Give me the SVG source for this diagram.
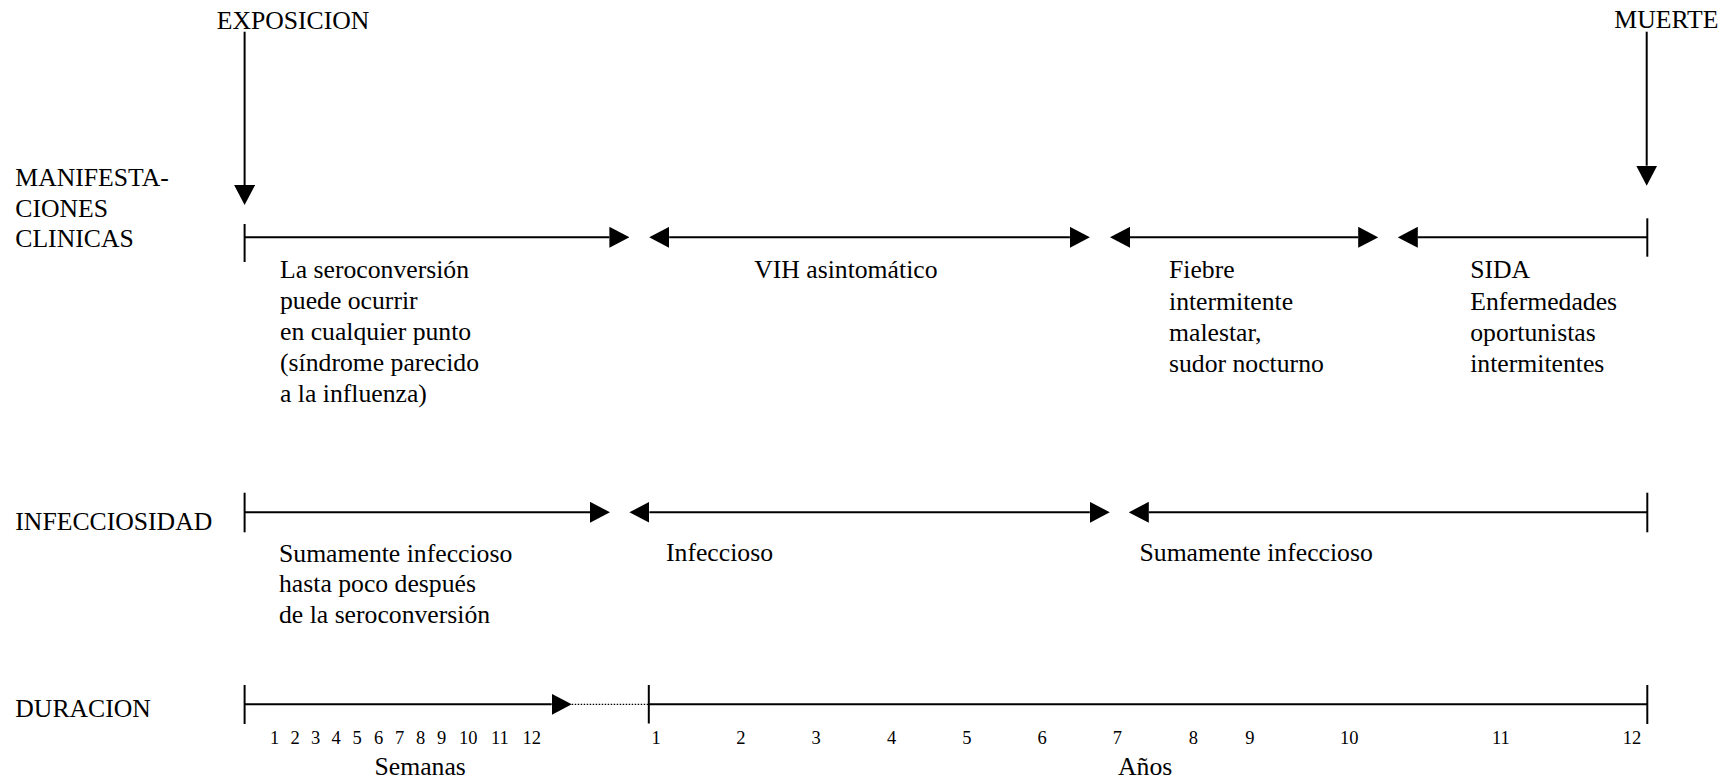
<svg xmlns="http://www.w3.org/2000/svg" width="1725" height="782" viewBox="0 0 1725 782">
<style>
text{font-family:'Liberation Serif','Times New Roman',Times,'DejaVu Serif',serif;fill:#000}
.t{font-size:25.7px}
.n{font-size:18.5px}
.ln{stroke:#000;stroke-width:2;fill:none}
.dot{stroke:#000;stroke-width:1.2;stroke-dasharray:1.5 1.5;fill:none}
</style>
<defs>
<marker id="ah" viewBox="0 0 20 21" refX="0" refY="10.5" markerWidth="20" markerHeight="21" markerUnits="userSpaceOnUse" orient="auto-start-reverse">
<path d="M0,0 L20,10.5 L0,21 Z" fill="#000"/>
</marker>
</defs>
<g id="labels-left" font-family="Liberation Serif, serif">
<text class="t" x="15.3" y="186">MANIFESTA-</text>
<text class="t" x="15.3" y="216.5">CIONES</text>
<text class="t" x="15.3" y="247">CLINICAS</text>
<text class="t" x="15.3" y="530">INFECCIOSIDAD</text>
<text class="t" x="15.3" y="717.3">DURACION</text>
</g>
<g id="exposicion"><text class="t" x="216.7" y="28.5">EXPOSICION</text></g>
<g id="muerte"><text class="t" x="1614.3" y="28">MUERTE</text></g>
<g id="seroconversion">
<text class="t" x="280" y="278.3">La seroconversión</text>
<text class="t" x="280" y="309.1">puede ocurrir</text>
<text class="t" x="280" y="339.9">en cualquier punto</text>
<text class="t" x="280" y="370.7">(síndrome parecido</text>
<text class="t" x="280" y="401.5">a la influenza)</text>
</g>
<g id="vih"><text class="t" x="754.2" y="278.3">VIH asintomático</text></g>
<g id="fiebre">
<text class="t" x="1169" y="278.3">Fiebre</text>
<text class="t" x="1169" y="309.5">intermitente</text>
<text class="t" x="1169" y="340.7">malestar,</text>
<text class="t" x="1169" y="371.9">sudor nocturno</text>
</g>
<g id="sida">
<text class="t" x="1470.2" y="278.3">SIDA</text>
<text class="t" x="1470.2" y="309.5">Enfermedades</text>
<text class="t" x="1470.2" y="340.7">oportunistas</text>
<text class="t" x="1470.2" y="371.9">intermitentes</text>
</g>
<g id="suma1">
<text class="t" x="279" y="561.5">Sumamente infeccioso</text>
<text class="t" x="279" y="592.4">hasta poco después</text>
<text class="t" x="279" y="623.3">de la seroconversión</text>
</g>
<g id="infeccioso"><text class="t" x="666" y="561">Infeccioso</text></g>
<g id="suma2"><text class="t" x="1139.5" y="561">Sumamente infeccioso</text></g>
<g id="semanas">
<text class="n" x="270" y="744">1</text>
<text class="n" x="290.5" y="744">2</text>
<text class="n" x="311" y="744">3</text>
<text class="n" x="331.5" y="744">4</text>
<text class="n" x="352.5" y="744">5</text>
<text class="n" x="374" y="744">6</text>
<text class="n" x="395" y="744">7</text>
<text class="n" x="416" y="744">8</text>
<text class="n" x="437" y="744">9</text>
<text class="n" x="459" y="744">10</text>
<text class="n" x="491" y="744">11</text>
<text class="n" x="522.5" y="744">12</text>
<text class="t" x="374.5" y="775">Semanas</text>
</g>
<g id="anos">
<text class="n" x="651.6" y="744">1</text>
<text class="n" x="736.3" y="744">2</text>
<text class="n" x="811.6" y="744">3</text>
<text class="n" x="887" y="744">4</text>
<text class="n" x="962.3" y="744">5</text>
<text class="n" x="1037.6" y="744">6</text>
<text class="n" x="1112.8" y="744">7</text>
<text class="n" x="1188.8" y="744">8</text>
<text class="n" x="1245.3" y="744">9</text>
<text class="n" x="1340" y="744">10</text>
<text class="n" x="1492" y="744">11</text>
<text class="n" x="1622.7" y="744">12</text>
<text class="t" x="1118" y="775">Años</text>
</g>
<g id="connectors">
<path class="ln" d="M244.6,31.7 V185" marker-end="url(#ah)"/>
<path class="ln" d="M1646.7,31.7 V165.7" marker-end="url(#ah)"/>
<path class="ln" d="M244.6,224 V262"/>
<path class="ln" d="M244.6,237.3 H609.4" marker-end="url(#ah)"/>
<path class="ln" d="M669.2,237.3 H1069.9" marker-start="url(#ah)" marker-end="url(#ah)"/>
<path class="ln" d="M1130,237.3 H1358.2" marker-start="url(#ah)" marker-end="url(#ah)"/>
<path class="ln" d="M1417.8,237.3 H1647.3" marker-start="url(#ah)"/>
<path class="ln" d="M1647.3,218.3 V256.7"/>
<path class="ln" d="M244.6,492.7 V532.3"/>
<path class="ln" d="M244.6,512.3 H590" marker-end="url(#ah)"/>
<path class="ln" d="M649.4,512.3 H1089.8" marker-start="url(#ah)" marker-end="url(#ah)"/>
<path class="ln" d="M1148.8,512.3 H1647.3" marker-start="url(#ah)"/>
<path class="ln" d="M1647.3,492.7 V532.3"/>
<path class="ln" d="M244.6,685 V724"/>
<path class="ln" d="M244.6,704.3 H551.7" marker-end="url(#ah)"/>
<path class="dot" d="M571.7,704.3 H648"/>
<path class="ln" d="M648.8,685 V723.5"/>
<path class="ln" d="M648.8,704.3 H1647.3"/>
<path class="ln" d="M1647.3,685 V724"/>
</g>
</svg>
